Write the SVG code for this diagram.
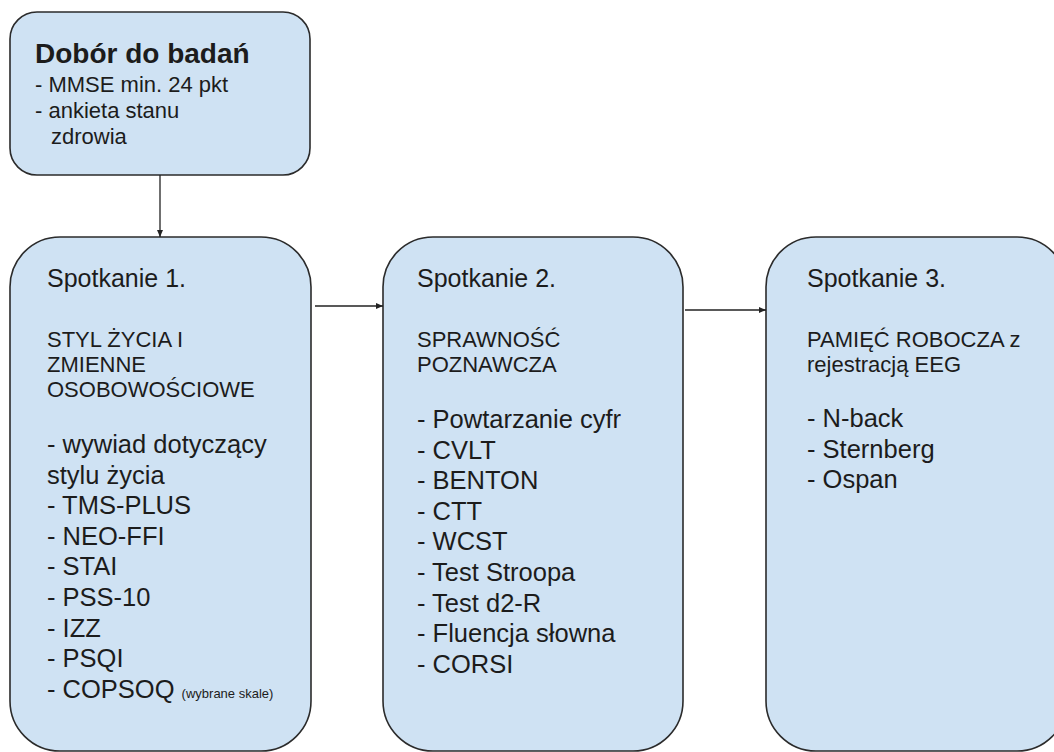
<svg xmlns="http://www.w3.org/2000/svg" width="1054" height="752" viewBox="0 0 1054 752">
  <defs>
    <marker id="arrow" markerUnits="userSpaceOnUse" markerWidth="8" markerHeight="8" refX="7" refY="4" orient="auto">
      <path d="M0,1 L7,4 L0,7 z" fill="#222"/>
    </marker>
    <style>
      .box { fill: #cfe2f3; stroke: #2b2b2b; stroke-width: 1.6; }
      .t { font-family: "Liberation Sans", Arial, sans-serif; fill: #1c1c1c; }
      .title { font-size: 28px; font-weight: bold; }
      .sub { font-size: 22px; }
      .head { font-size: 25px; }
      .caps { font-size: 22px; }
      .item { font-size: 25.5px; }
      .small { font-size: 13px; }
      .conn { stroke: #222; stroke-width: 1.3; fill: none; }
    </style>
  </defs>
  <rect width="1054" height="752" fill="#ffffff"/>

  <g id="dobor">
    <rect class="box" x="10" y="12" width="300" height="163" rx="27" ry="27"/>
    <text class="t title" x="35" y="63">Dobór do badań</text>
    <text class="t sub" x="35" y="92">- MMSE min. 24 pkt</text>
    <text class="t sub" x="35" y="118">- ankieta stanu</text>
    <text class="t sub" x="51" y="144">zdrowia</text>
  </g>

  <g id="spotkanie1">
    <rect class="box" x="10" y="237" width="301" height="514" rx="50" ry="50"/>
    <text class="t head" x="47" y="287">Spotkanie 1.</text>
    <text class="t caps" x="47" y="347">STYL ŻYCIA I</text>
    <text class="t caps" x="47" y="372">ZMIENNE</text>
    <text class="t caps" x="47" y="397">OSOBOWOŚCIOWE</text>
    <text class="t item" x="47" y="453">- wywiad dotyczący</text>
    <text class="t item" x="47" y="483.6">stylu życia</text>
    <text class="t item" x="47" y="514.2">- TMS-PLUS</text>
    <text class="t item" x="47" y="544.8">- NEO-FFI</text>
    <text class="t item" x="47" y="575.4">- STAI</text>
    <text class="t item" x="47" y="606">- PSS-10</text>
    <text class="t item" x="47" y="636.6">- IZZ</text>
    <text class="t item" x="47" y="667.2">- PSQI</text>
    <text class="t item" x="47" y="697.8">- COPSOQ <tspan class="small">(wybrane skale)</tspan></text>
  </g>

  <g id="spotkanie2">
    <rect class="box" x="383" y="237" width="300" height="514" rx="50" ry="50"/>
    <text class="t head" x="417" y="287">Spotkanie 2.</text>
    <text class="t caps" x="417" y="347">SPRAWNOŚĆ</text>
    <text class="t caps" x="417" y="372">POZNAWCZA</text>
    <text class="t item" x="417" y="428">- Powtarzanie cyfr</text>
    <text class="t item" x="417" y="458.6">- CVLT</text>
    <text class="t item" x="417" y="489.2">- BENTON</text>
    <text class="t item" x="417" y="519.8">- CTT</text>
    <text class="t item" x="417" y="550.4">- WCST</text>
    <text class="t item" x="417" y="581">- Test Stroopa</text>
    <text class="t item" x="417" y="611.6">- Test d2-R</text>
    <text class="t item" x="417" y="642.2">- Fluencja słowna</text>
    <text class="t item" x="417" y="672.8">- CORSI</text>
  </g>

  <g id="spotkanie3">
    <rect class="box" x="766" y="237" width="301" height="514" rx="50" ry="50"/>
    <text class="t head" x="807" y="287">Spotkanie 3.</text>
    <text class="t caps" x="807" y="347">PAMIĘĆ ROBOCZA z</text>
    <text class="t caps" x="807" y="372">rejestracją EEG</text>
    <text class="t item" x="807" y="427">- N-back</text>
    <text class="t item" x="807" y="457.6">- Sternberg</text>
    <text class="t item" x="807" y="488.2">- Ospan</text>
  </g>

  <g id="connectors">
    <line class="conn" x1="160" y1="175" x2="160" y2="237" marker-end="url(#arrow)"/>
    <line class="conn" x1="315" y1="306" x2="383" y2="306" marker-end="url(#arrow)"/>
    <line class="conn" x1="685" y1="310" x2="766" y2="310" marker-end="url(#arrow)"/>
  </g>
</svg>
